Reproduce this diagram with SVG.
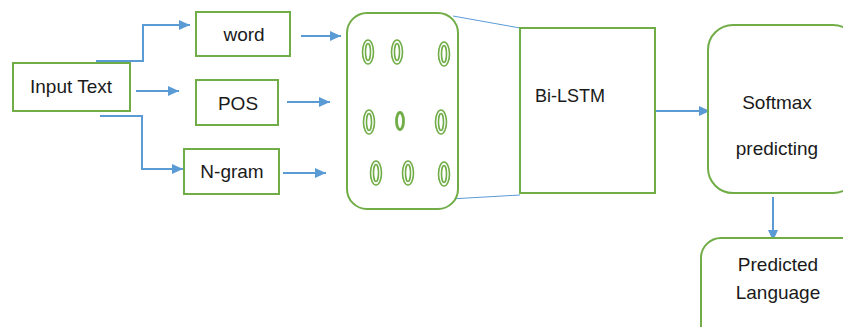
<svg xmlns="http://www.w3.org/2000/svg" width="843" height="327" viewBox="0 0 843 327">
<defs>
<style>
.box{fill:#fff;stroke:#70AD47;stroke-width:2}
.t{font-family:"Liberation Sans",Arial,sans-serif;font-size:19px;fill:#1a1a1a}
.c{text-anchor:middle}
.conn{fill:none;stroke:#5B9BD5;stroke-width:2}
.thin{fill:none;stroke:#5B9BD5;stroke-width:1}
.oe{fill:none;stroke:#70AD47;stroke-width:1.6}
</style>
<marker id="ah" markerUnits="userSpaceOnUse" markerWidth="12" markerHeight="10" refX="11" refY="5" orient="auto">
<path d="M0,0 L11,5 L0,10 Z" fill="#5B9BD5"/>
</marker>
</defs>
<rect width="843" height="327" fill="#fff"/>
<g id="connectors">
<polyline class="conn" points="96,61 143,61 143,25 190,25" marker-end="url(#ah)"/>
<line class="conn" x1="136" y1="91" x2="179" y2="91" marker-end="url(#ah)"/>
<polyline class="conn" points="100,116 142,116 142,169 183,169" marker-end="url(#ah)"/>
<line class="conn" x1="301" y1="36" x2="341" y2="36" marker-end="url(#ah)"/>
<line class="conn" x1="287" y1="102" x2="330" y2="102" marker-end="url(#ah)"/>
<line class="conn" x1="283" y1="173" x2="326" y2="173" marker-end="url(#ah)"/>
<line class="thin" x1="453" y1="16" x2="520" y2="28"/>
<line class="thin" x1="450" y1="199" x2="520" y2="195"/>
<line class="conn" x1="656" y1="111" x2="710" y2="111" marker-end="url(#ah)"/>
<line class="conn" x1="773" y1="197" x2="773" y2="241" marker-end="url(#ah)"/>
</g>
<g id="input-text">
<rect class="box" x="13" y="63" width="117" height="48"/>
<text class="t c" x="71" y="93">Input Text</text>
</g>
<g id="word">
<rect class="box" x="196" y="12" width="94" height="44"/>
<text class="t c" x="244" y="41">word</text>
</g>
<g id="pos">
<rect class="box" x="196" y="80" width="82" height="45"/>
<text class="t c" x="238" y="110">POS</text>
</g>
<g id="ngram">
<rect class="box" x="184" y="149" width="95" height="45"/>
<text class="t c" x="232" y="178">N-gram</text>
</g>
<g id="embedding">
<rect class="box" x="347" y="13" width="111" height="196" rx="20"/>
<g>
<ellipse class="oe" cx="368" cy="52" rx="5.5" ry="12"/><ellipse class="oe" cx="368" cy="52" rx="2.5" ry="8.5"/>
<ellipse class="oe" cx="397" cy="52" rx="5.5" ry="12"/><ellipse class="oe" cx="397" cy="52" rx="2.5" ry="8.5"/>
<ellipse class="oe" cx="444" cy="54" rx="5.5" ry="12"/><ellipse class="oe" cx="444" cy="54" rx="2.5" ry="8.5"/>
<ellipse class="oe" cx="369" cy="122" rx="5.5" ry="12"/><ellipse class="oe" cx="369" cy="122" rx="2.5" ry="8.5"/>
<ellipse cx="400" cy="121" rx="3.5" ry="8.5" fill="none" stroke="#70AD47" stroke-width="2.8"/>
<ellipse class="oe" cx="441" cy="122" rx="5.5" ry="12"/><ellipse class="oe" cx="441" cy="122" rx="2.5" ry="8.5"/>
<ellipse class="oe" cx="376" cy="173" rx="5.5" ry="12"/><ellipse class="oe" cx="376" cy="173" rx="2.5" ry="8.5"/>
<ellipse class="oe" cx="408" cy="173" rx="5.5" ry="12"/><ellipse class="oe" cx="408" cy="173" rx="2.5" ry="8.5"/>
<ellipse class="oe" cx="444" cy="174" rx="5.5" ry="12"/><ellipse class="oe" cx="444" cy="174" rx="2.5" ry="8.5"/>
</g>
</g>
<g id="bilstm">
<rect class="box" x="520" y="28" width="135" height="165"/>
<text class="t" x="535" y="102" style="font-size:18px">Bi-LSTM</text>
</g>
<g id="softmax">
<rect class="box" x="708" y="25" width="150" height="168" rx="25"/>
<text class="t c" x="777" y="109">Softmax</text>
<text class="t c" x="777" y="155">predicting</text>
</g>
<g id="predicted">
<rect class="box" x="701" y="238" width="160" height="110" rx="20"/>
<text class="t c" x="778" y="271">Predicted</text>
<text class="t c" x="778" y="299">Language</text>
</g>
</svg>
